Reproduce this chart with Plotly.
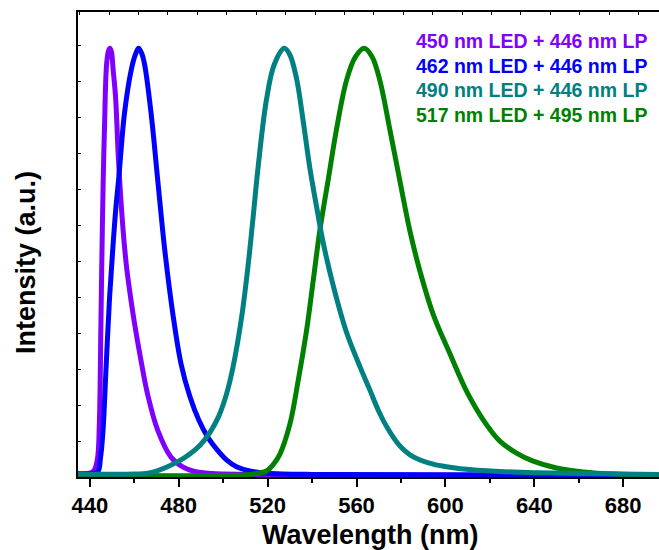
import plotly.graph_objects as go

# Emission spectra (normalised) of LEDs filtered by long-pass filters
wl_450 = [434.6, 440, 442, 443.5, 444.3, 445.0, 445.4, 446.0, 446.6, 447.6, 448.5, 449.1,
          449.8, 450.5, 451.6, 452.9, 454.9, 456.5, 458, 460, 463, 466, 470.6, 476.6,
          482, 487.1, 495, 510, 540, 600, 696]
int_450 = [0.004, 0.005, 0.012, 0.04, 0.12, 0.35, 0.495, 0.68, 0.81, 0.965, 0.995, 1.0,
           0.99, 0.95, 0.886, 0.74, 0.58, 0.49, 0.43, 0.36, 0.27, 0.19, 0.105, 0.042,
           0.019, 0.009, 0.004, 0.002, 0.001, 0.0, 0.0]

wl_462 = [434.6, 440, 443.6, 444.8, 445.9, 447.4, 448.9, 450.4, 451.8, 453.1, 455.6, 458.6,
          460.5, 461.9, 463.2, 464.6, 467.6, 470.6, 473.6, 477.4, 481.1, 485, 489, 493,
          497.6, 501.5, 506, 512, 520, 540, 600, 696]
int_462 = [0.003, 0.004, 0.008, 0.04, 0.10, 0.26, 0.416, 0.534, 0.63, 0.70, 0.847, 0.948,
           0.985, 1.0, 0.99, 0.964, 0.847, 0.69, 0.534, 0.377, 0.26, 0.185, 0.13, 0.09,
           0.058, 0.036, 0.02, 0.01, 0.005, 0.002, 0.001, 0.0]

wl_490 = [434.6, 460, 466, 470, 475, 480, 485, 489.5, 494, 498, 501.5, 504.5, 508.3, 511.2,
          513.5, 515.7, 519.5, 523, 527.5, 530, 533, 536, 539, 542, 545, 549.5, 555.5,
          561.5, 566, 570, 574, 579, 585, 594.5, 602, 612, 624.5, 640, 660, 696]
int_490 = [0.003, 0.003, 0.005, 0.01, 0.02, 0.033, 0.05, 0.07, 0.10, 0.138, 0.19, 0.255,
           0.37, 0.49, 0.605, 0.72, 0.88, 0.962, 1.0, 0.985, 0.93, 0.83, 0.72, 0.63, 0.545,
           0.445, 0.335, 0.255, 0.20, 0.15, 0.11, 0.072, 0.045, 0.026, 0.019, 0.013, 0.009,
           0.006, 0.004, 0.002]

wl_517 = [434.6, 505, 512, 516, 519.5, 522.5, 525.5, 530, 533.7, 537.5, 540.5, 543.5, 547.2,
          551, 555.5, 559.5, 563.5, 567, 570.5, 575, 579.5, 584, 588.5, 594.5, 602, 609.5,
          617, 624.5, 632, 639.5, 650, 662, 677, 696]
int_517 = [0.0, 0.0, 0.002, 0.005, 0.01, 0.025, 0.049, 0.119, 0.22, 0.338, 0.455, 0.573, 0.69,
           0.81, 0.925, 0.98, 1.0, 0.98, 0.925, 0.81, 0.69, 0.573, 0.479, 0.377, 0.285, 0.197,
           0.13, 0.08, 0.052, 0.033, 0.017, 0.008, 0.003, 0.001]

labels = ["450 nm LED + 446 nm LP", "462 nm LED + 446 nm LP",
          "490 nm LED + 446 nm LP", "517 nm LED + 495 nm LP"]
colors = ["#8000FF", "#0000FF", "#008080", "#008000"]
series = [(wl_450, int_450), (wl_462, int_462), (wl_490, int_490), (wl_517, int_517)]

x_tick_vals = [440, 480, 520, 560, 600, 640, 680]

FONT = "Liberation Sans, Arial, sans-serif"
X_RANGE = [434.7, 696.1]
Y_RANGE = [-0.004, 1.085]

fig = go.Figure()
draw_order = [0, 1, 3, 2]
for i in draw_order:
    x, y = series[i]
    fig.add_trace(go.Scatter(
        x=x, y=y, mode="lines", name=labels[i],
        line=dict(color=colors[i], width=5, shape="spline", smoothing=1.0),
        showlegend=False,
    ))

# invisible trace carrying the top axis
fig.add_trace(go.Scatter(x=[X_RANGE[0]], y=[0], xaxis="x2", mode="markers",
                         marker=dict(opacity=0), showlegend=False, hoverinfo="skip"))

fig.update_layout(
    width=659, height=550,
    margin=dict(l=78, r=0, t=12, b=73),
    paper_bgcolor="white", plot_bgcolor="white",
    font=dict(family=FONT, color="black"),
    xaxis=dict(
        range=X_RANGE, tickvals=x_tick_vals, ticks="outside", ticklen=8, tickwidth=1.5,
        tickcolor="black", showline=True, linecolor="black", linewidth=2,
        showgrid=False, zeroline=False,
        tickfont=dict(family=FONT, size=22, weight="bold", color="black"),
        minor=dict(dtick=20, tick0=460, ticks="outside", ticklen=4, tickwidth=1.5,
                   tickcolor="black", showgrid=False),
    ),
    xaxis2=dict(
        range=X_RANGE, overlaying="x", side="top", tick0=435.5, dtick=13.23,
        ticks="inside", ticklen=3, tickwidth=1, tickcolor="black",
        showticklabels=False, showline=True, linecolor="black", linewidth=1.5,
        showgrid=False, zeroline=False,
    ),
    yaxis=dict(
        range=Y_RANGE, tick0=Y_RANGE[0], dtick=0.0842, ticks="inside", ticklen=3,
        tickwidth=1, tickcolor="black", showticklabels=False, showline=True,
        linecolor="black", linewidth=2, showgrid=False, zeroline=False,
    ),
)

annotations = [
    dict(text="Wavelength (nm)", xref="paper", yref="paper", x=0.503, y=0,
         yshift=-58, xanchor="center", yanchor="middle", showarrow=False,
         font=dict(family=FONT, size=27, weight="bold", color="black")),
    dict(text="Intensity (a.u.)", xref="paper", yref="paper", x=0, y=0.46,
         xshift=-52, xanchor="center", yanchor="middle", textangle=-90, showarrow=False,
         font=dict(family=FONT, size=27, weight="bold", color="black")),
]
legend_y = [41, 66, 90, 115]
for lab, col, py in zip(labels, colors, legend_y):
    annotations.append(dict(
        text=lab, xref="paper", yref="paper", x=(649 - 78) / 581,
        y=1 - (py - 12) / 464, xanchor="right", yanchor="middle", showarrow=False,
        font=dict(family=FONT, size=19.5, weight="bold", color=col),
    ))
fig.update_layout(annotations=annotations)

fig.write_html("out.html")
